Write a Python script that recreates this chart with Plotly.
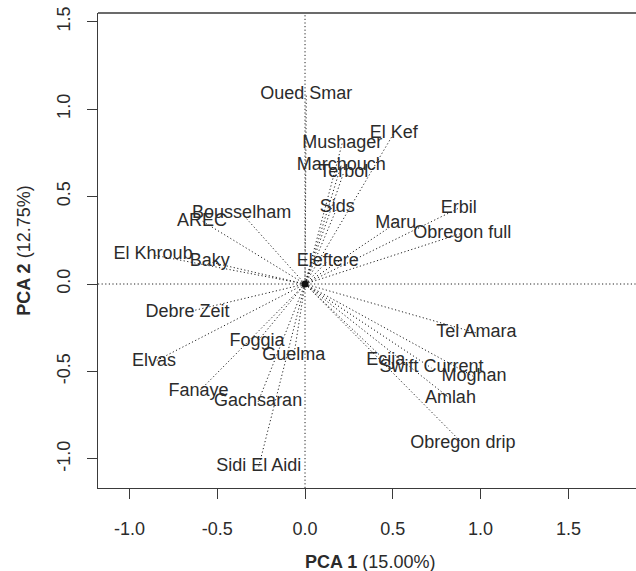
import plotly.graph_objects as go

# Genotype scores on the first two principal components
genotypes = [
    "Oued Smar", "El Kef", "Mushager", "Marchouch", "Terbol", "Sids",
    "Maru", "Erbil", "Obregon full", "Eleftere", "Bousselham", "AREC",
    "El Khroub", "Baky", "Debre Zeit", "Elvas", "Foggia", "Guelma",
    "Fanaye", "Gachsaran", "Sidi El Aidi", "Tel Amara", "Ecija",
    "Swift Current", "Moghan", "Amlah", "Obregon drip",
]
pc1 = [0.007, 0.506, 0.212, 0.206, 0.221, 0.184, 0.517, 0.876, 0.896,
       0.129, -0.361, -0.586, -0.865, -0.543, -0.669, -0.860, -0.273,
       -0.064, -0.606, -0.267, -0.264, 0.976, 0.460, 0.720, 0.962,
       0.828, 0.899]
pc2 = [1.085, 0.862, 0.805, 0.679, 0.639, 0.440, 0.348, 0.434, 0.291,
       0.131, 0.405, 0.360, 0.166, 0.126, -0.160, -0.445, -0.331,
       -0.411, -0.616, -0.673, -1.045, -0.280, -0.440, -0.480, -0.530,
       -0.656, -0.913]

tick_vals_x = [-1.0, -0.5, 0.0, 0.5, 1.0, 1.5]
tick_vals_y = [-1.0, -0.5, 0.0, 0.5, 1.0, 1.5]

x_title = "<b>PCA 1</b> (15.00%)"
y_title = "<b>PCA 2</b> (12.75%)"

INK = "#2b2b2b"
AXIS = "#3a3a3a"
FONT = "Liberation Sans, Arial, sans-serif"
DOT = "1.2px,2.4px"

# Segments from the origin to each genotype
seg_x, seg_y = [], []
for gx, gy in zip(pc1, pc2):
    seg_x += [0, gx, None]
    seg_y += [0, gy, None]

fig = go.Figure()
fig.add_trace(go.Scatter(
    x=seg_x, y=seg_y, mode="lines",
    line=dict(color="#222222", width=1, dash=DOT),
    hoverinfo="skip", showlegend=False,
))
fig.add_trace(go.Scatter(
    x=pc1, y=pc2, mode="text", text=genotypes,
    textposition="middle center",
    textfont=dict(family=FONT, size=18, color=INK),
    showlegend=False,
))
fig.add_trace(go.Scatter(
    x=[0], y=[0], mode="markers",
    marker=dict(color="#111111", size=7),
    showlegend=False, hoverinfo="skip",
))

# Reference lines through the origin
fig.add_shape(type="line", xref="x", yref="paper", x0=0, x1=0, y0=0, y1=1,
              line=dict(color="#222222", width=1, dash=DOT), layer="below")
fig.add_shape(type="line", xref="paper", yref="y", x0=0, x1=1, y0=0, y1=0,
              line=dict(color="#222222", width=1, dash=DOT), layer="below")
# Top frame line
fig.add_shape(type="line", xref="paper", yref="paper", x0=0, x1=1, y0=1, y1=1,
              line=dict(color=AXIS, width=1.3))

fig.add_annotation(text=x_title, xref="paper", yref="paper",
                   x=0.5056, y=-0.156, xanchor="center", yanchor="middle",
                   showarrow=False, font=dict(family=FONT, size=18, color=INK))
fig.add_annotation(text=y_title, xref="paper", yref="paper",
                   x=-0.139, y=0.5, xanchor="center", yanchor="middle",
                   textangle=-90, showarrow=False,
                   font=dict(family=FONT, size=18, color=INK))

fig.update_xaxes(
    range=[-1.179, 1.885], tickvals=tick_vals_x,
    ticktext=[f"{v:.1f}" for v in tick_vals_x],
    showgrid=False, zeroline=False, showline=True, linecolor=AXIS,
    linewidth=1.3, ticks="outside", ticklen=10, tickcolor=AXIS,
    tickwidth=1.3, ticklabelstandoff=14,
    tickfont=dict(family=FONT, size=18, color=INK),
)
fig.update_yaxes(
    range=[-1.166, 1.549], tickvals=tick_vals_y,
    ticktext=[f"{v:.1f}" for v in tick_vals_y],
    showgrid=False, zeroline=False, showline=True, linecolor=AXIS,
    linewidth=1.3, ticks="outside", ticklen=10, tickcolor=AXIS,
    tickwidth=1.3, tickangle=-90, ticklabelstandoff=10,
    tickfont=dict(family=FONT, size=18, color=INK),
)
fig.update_layout(
    width=636, height=571,
    margin=dict(l=98, r=0, t=13, b=83),
    plot_bgcolor="white", paper_bgcolor="white",
    font=dict(family=FONT, size=18, color=INK),
)
fig.write_html("out.html")
